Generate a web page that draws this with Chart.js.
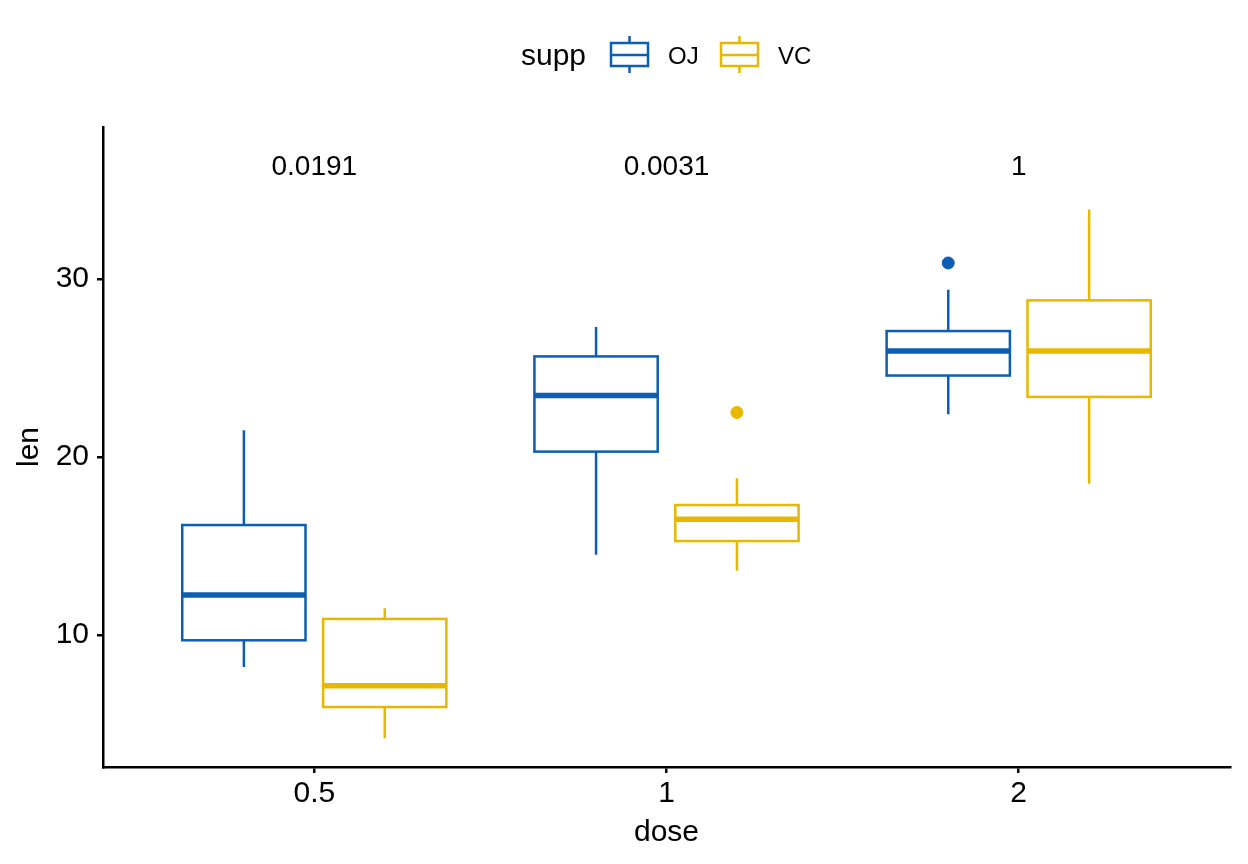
<!DOCTYPE html>
<html>
<head>
<meta charset="utf-8">
<script src="https://cdn.jsdelivr.net/npm/chart.js@4"></script>
<style>
  html, body { margin: 0; padding: 0; background: #fff; }
  #wrap { width: 1248px; height: 864px; }
</style>
</head>
<body>
<div id="wrap"><canvas id="chart" width="1248" height="864"></canvas></div>
<script>
// ToothGrowth len by dose, grouped by supp
const doses = ["0.5", "1", "2"];
const seriesNames = ["OJ", "VC"];
const colors = ["#0C5DB4", "#E7B800"];
// [lower whisker, Q1, median, Q3, upper whisker]
const ojStats = [[8.2, 9.7, 12.25, 16.175, 21.5], [14.5, 20.3, 23.45, 25.65, 27.3], [22.4, 24.575, 25.95, 27.075, 29.4]];
const vcStats = [[4.2, 5.95, 7.15, 10.9, 11.5], [13.6, 15.275, 16.5, 17.3, 18.8], [18.5, 23.375, 25.95, 28.8, 33.9]];
const ojOutliers = [[3, 30.9]];
const vcOutliers = [[2, 22.5]];
const pValues = ["0.0191", "0.0031", "1"];
const yTicks = [10, 20, 30];

const FONT = "'Liberation Sans', Arial, Helvetica, sans-serif";
const dodge = 0.2, boxW = 0.35;

const boxPlugin = {
  id: "boxes",
  afterDatasetsDraw(chart) {
    const { ctx, scales: { x, y } } = chart;
    const half = (x.getPixelForValue(boxW) - x.getPixelForValue(0)) / 2;
    [ojStats, vcStats].forEach((stats, s) => {
      const off = s === 0 ? -dodge : dodge;
      ctx.save();
      ctx.strokeStyle = colors[s];
      stats.forEach((st, i) => {
        const cx = x.getPixelForValue(i + 1 + off);
        const [lo, q1, med, q3, hi] = st.map(v => y.getPixelForValue(v));
        ctx.lineWidth = 2.5;
        ctx.beginPath();
        ctx.moveTo(cx, lo); ctx.lineTo(cx, q1);
        ctx.moveTo(cx, q3); ctx.lineTo(cx, hi);
        ctx.stroke();
        ctx.strokeRect(cx - half, q3, half * 2, q1 - q3);
        ctx.lineWidth = 5.5;
        ctx.beginPath();
        ctx.moveTo(cx - half, med); ctx.lineTo(cx + half, med);
        ctx.stroke();
      });
      ctx.restore();
    });
    // p-values
    ctx.save();
    ctx.fillStyle = "#000";
    ctx.font = "28px " + FONT;
    ctx.textAlign = "center";
    ctx.textBaseline = "middle";
    pValues.forEach((p, i) => ctx.fillText(p, x.getPixelForValue(i + 1), 167));
    ctx.restore();
  },
  afterDraw(chart) {
    const { ctx } = chart;
    ctx.save();
    ctx.fillStyle = "#000";
    ctx.textBaseline = "middle";
    ctx.font = "30px " + FONT;
    ctx.fillText("supp", 521, 57);
    const icons = [611, 721];
    const labels = [668, 778];
    icons.forEach((ix, s) => {
      ctx.strokeStyle = colors[s];
      ctx.lineWidth = 2.5;
      ctx.beginPath();
      ctx.moveTo(ix + 18.5, 36); ctx.lineTo(ix + 18.5, 43);
      ctx.moveTo(ix + 18.5, 66); ctx.lineTo(ix + 18.5, 73);
      ctx.moveTo(ix, 55); ctx.lineTo(ix + 37, 55);
      ctx.stroke();
      ctx.strokeRect(ix, 43, 37, 23);
      ctx.fillStyle = "#000";
      ctx.font = "24px " + FONT;
      ctx.fillText(seriesNames[s], labels[s], 57);
    });
    ctx.restore();
  }
};

new Chart(document.getElementById("chart"), {
  type: "scatter",
  data: {
    datasets: [
      { label: "OJ", data: ojOutliers.map(p => ({ x: p[0] - dodge, y: p[1] })), backgroundColor: colors[0], borderColor: colors[0], pointRadius: 6 },
      { label: "VC", data: vcOutliers.map(p => ({ x: p[0] + dodge, y: p[1] })), backgroundColor: colors[1], borderColor: colors[1], pointRadius: 6 }
    ]
  },
  options: {
    responsive: false,
    animation: false,
    layout: { padding: { top: 127, right: 18, left: 0, bottom: 0 } },
    plugins: { legend: { display: false }, tooltip: { enabled: false } },
    scales: {
      x: {
        type: "linear", min: 0.4, max: 3.6,
        afterBuildTicks: s => { s.ticks = doses.map((d, i) => ({ value: i + 1 })); },
        afterFit: s => { s.height = 97; },
        ticks: { callback: v => doses[v - 1], color: "#000", font: { size: 30, family: FONT }, padding: 3 },
        grid: { drawOnChartArea: false, drawTicks: true, tickLength: 6, color: "#000", lineWidth: 2.5 },
        border: { color: "#000", width: 2.5 },
        title: { display: true, text: "dose", color: "#000", font: { size: 30, family: FONT }, padding: { bottom: 13 } }
      },
      y: {
        min: 2.58, max: 38.54,
        afterBuildTicks: s => { s.ticks = yTicks.map(v => ({ value: v })); },
        afterFit: s => { s.width = 103; },
        ticks: { color: "#000", font: { size: 30, family: FONT }, padding: 8 },
        grid: { drawOnChartArea: false, drawTicks: true, tickLength: 6, color: "#000", lineWidth: 2.5 },
        border: { color: "#000", width: 2.5 },
        title: { display: true, text: "len", color: "#000", font: { size: 30, family: FONT }, padding: { top: 12 } }
      }
    }
  },
  plugins: [boxPlugin]
});
</script>
</body>
</html>
